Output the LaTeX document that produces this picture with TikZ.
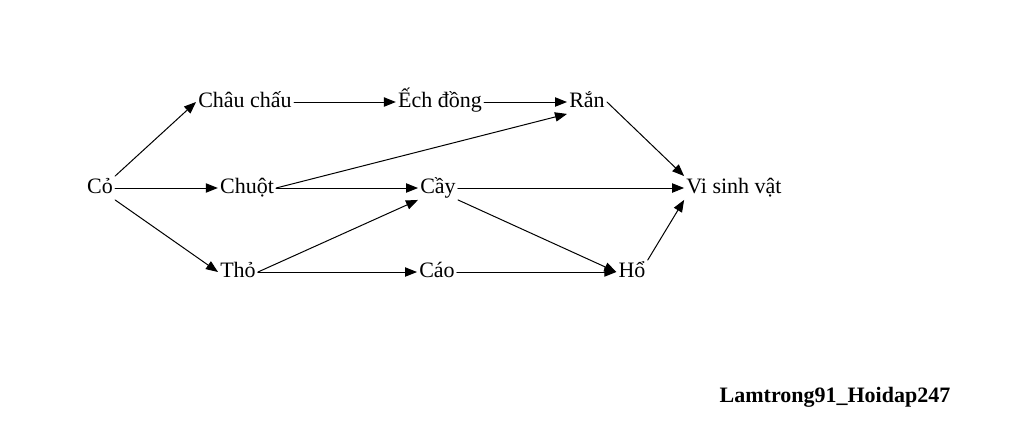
\documentclass[tikz,border=0pt]{standalone}
\usepackage{fontspec}
\setmainfont{Liberation Serif}
\usetikzlibrary{arrows.meta}
\tikzset{
  loai/.style={inner sep=1.5pt, text height=11pt, text depth=3.5pt, font=\fontsize{16.5pt}{18pt}\selectfont},
  an/.style={-{Triangle[length=9pt,width=7pt]}, line width=0.75pt}
}
\begin{document}
\begin{tikzpicture}[x=0.75pt, y=-0.75pt, line cap=round, line join=round]
    \useasboundingbox (0,0) rectangle (1024,436);
    % cac loai
    \node[loai] (co) at (100,188) {Cỏ};
    \node[loai] (chauchau) at (245,102) {Châu chấu};
    \node[loai] (ech) at (440,102) {Ếch đồng};
    \node[loai] (ran) at (587,102) {Rắn};
    \node[loai] (chuot) at (247,188) {Chuột};
    \node[loai] (cay) at (438,188) {Cầy};
    \node[loai] (vsv) at (734,188) {Vi sinh vật};
    \node[loai] (tho) at (238,272) {Thỏ};
    \node[loai] (cao) at (437,272) {Cáo};
    \node[loai] (ho) at (632,272) {Hổ};
    \node[font=\fontsize{16.5pt}{18pt}\selectfont\bfseries] (ten) at (835,397) {Lamtrong91\_Hoidap247};
    % cac mui ten
    \draw[an] (co.north east) -- (chauchau.west);
    \draw[an] (co.east) -- (chuot.west);
    \draw[an] (co.south east) -- (tho.west);
    \draw[an] (chauchau) -- (ech);
    \draw[an] (ech) -- (ran);
    \draw[an] (chuot.east) -- (ran.south west);
    \draw[an] (chuot) -- (cay);
    \draw[an] (tho.east) -- (cay.south west);
    \draw[an] (tho) -- (cao);
    \draw[an] (cay) -- (vsv);
    \draw[an] (cay.south east) -- (ho.west);
    \draw[an] (cao) -- (ho);
    \draw[an] (ran.east) -- (vsv.north west);
    \draw[an] (ho.north east) -- (vsv.south west);
\end{tikzpicture}
\end{document}
